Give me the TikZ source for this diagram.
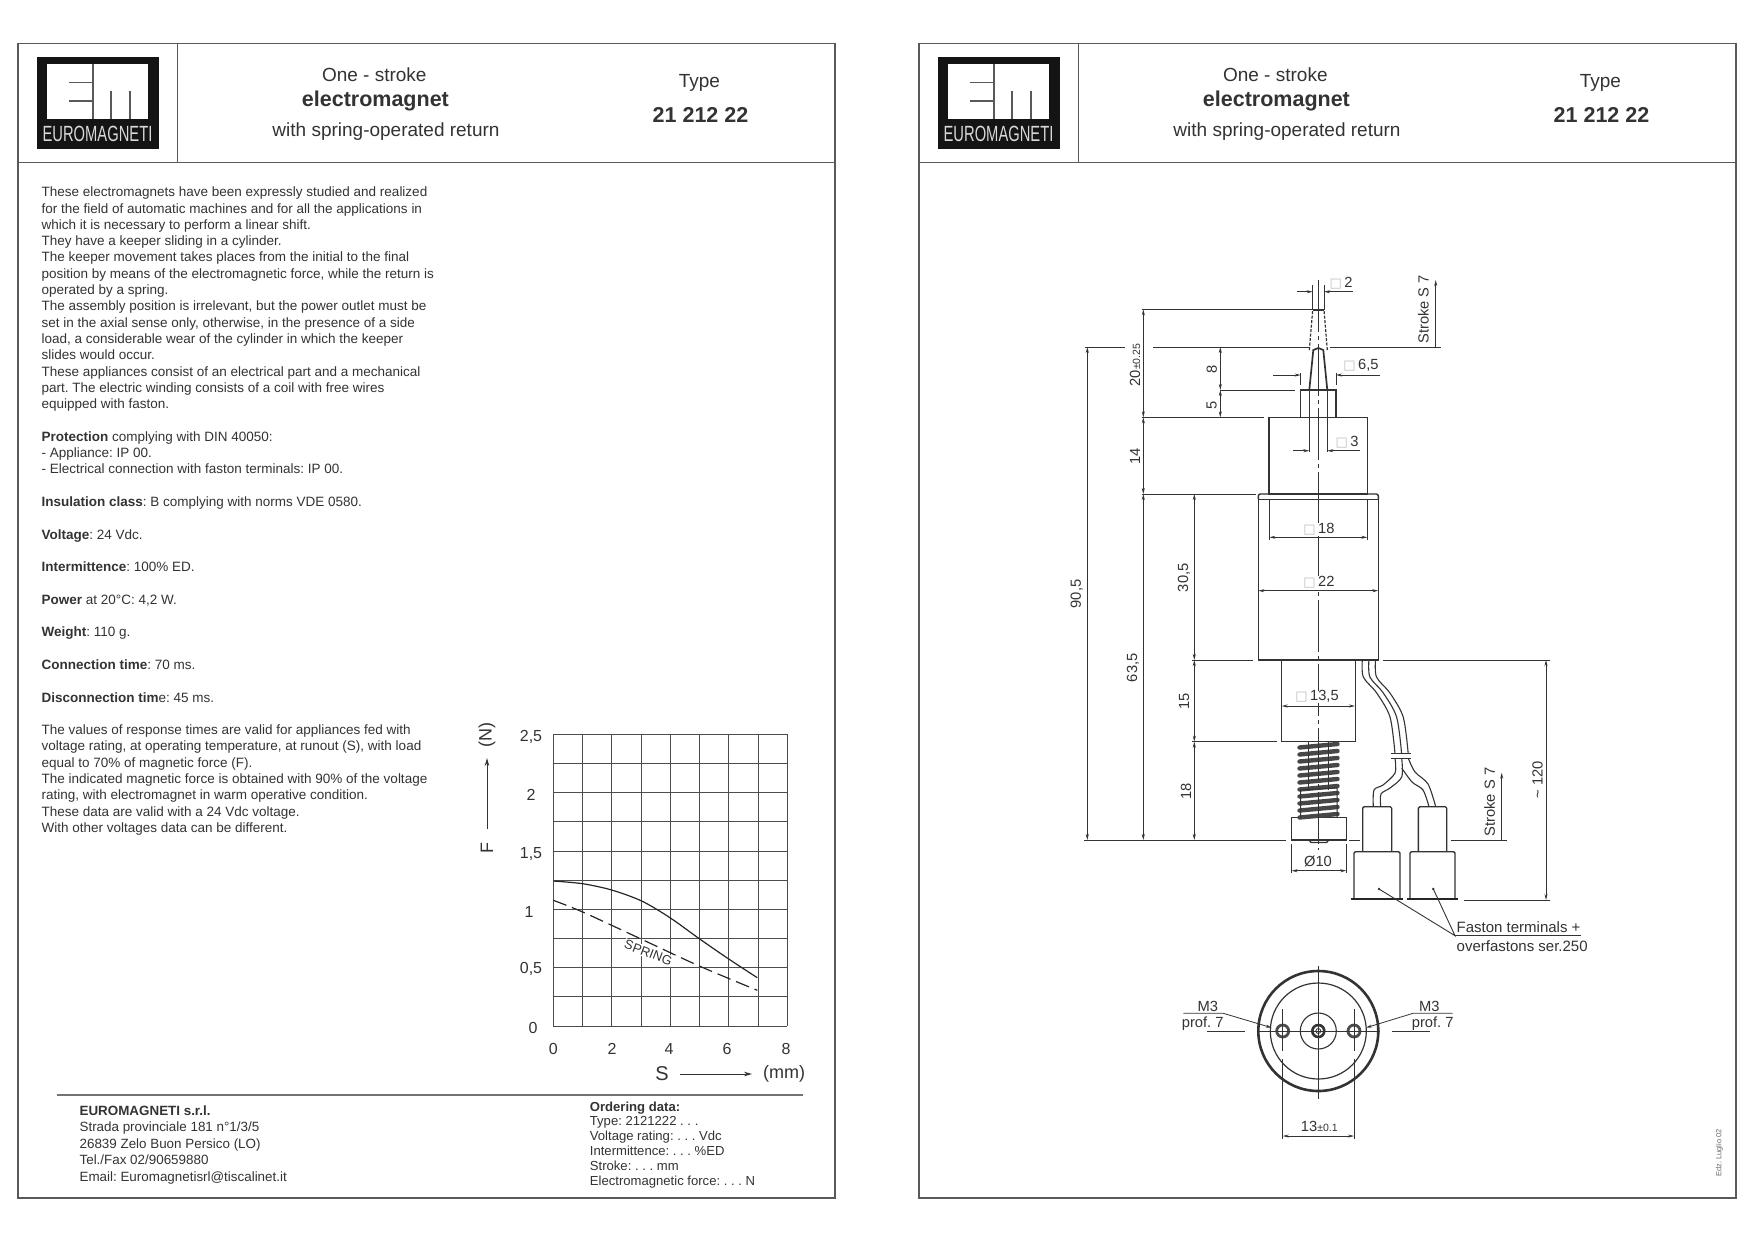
\documentclass[tikz,border=0pt]{standalone}
\usepackage{fontspec}
\setmainfont{Liberation Sans}
\newfontfamily\symfont{DejaVu Sans}
\usetikzlibrary{arrows.meta}
\frenchspacing
\definecolor{ink}{gray}{0.2}
\newcommand{\sq}{{\color{black!25}\symfont\fontsize{13}{13}\selectfont □}\,}
\newcommand{\tol}[1]{{\fontsize{10.5}{10.5}\selectfont #1}}
\tikzset{
  part/.style={draw=ink, line width=1.4pt},
  extline/.style={draw=ink, line width=0.9pt},
  dimline/.style={draw=ink, line width=0.8pt, {Stealth[length=6pt,width=3pt]}-{Stealth[length=6pt,width=3pt]}},
  inward/.style={draw=ink, line width=0.8pt, -{Stealth[length=6pt,width=3pt]}},
  plotarrow/.style={draw=ink, line width=1pt, -{Stealth[length=8pt,width=4.5pt]}},
  dimlab/.style={text=ink, inner sep=0pt, font=\fontsize{14.7}{16}\selectfont},
  plainlab/.style={text=ink, inner sep=0pt}
}
\begin{document}
\begin{tikzpicture}[x=1pt,y=-1pt]
  \useasboundingbox [fill=white] (0,0) rectangle (1755,1240);
  % The two sheets share the frame and the heading
  \foreach \off in {0,901} {
    \begin{scope}[xshift=\off pt]
      \draw [draw=black!65, line width=1.4pt] (18,43.6) rectangle (835,1198);
      \draw [draw=black!65, line width=1.4pt] (18,162.5) -- (835,162.5);
      \draw [draw=black!65, line width=1.1pt] (177.4,43.6) -- (177.4,162.5);
      % Logo
      \fill [black!92] (36.7,56.7) rectangle (159,149);
      \fill [white] (47,64) rectangle (148,119);
      \draw [black!65, line width=1.4pt] (93,64) -- (93,119);
      \draw [black!65, line width=1.4pt] (69,82.7) -- (93,82.7);
      \draw [black!65, line width=1.4pt] (69,101) -- (93,101);
      \draw [black!65, line width=1.4pt] (111,91) -- (111,119);
      \draw [black!65, line width=1.4pt] (130,91) -- (130,119);
      \node [text=white!85!black, inner sep=0pt, xscale=0.67, font=\fontsize{22}{22}\selectfont] (logo\off) at (97.5,134) {EUROMAGNETI};
      % Heading texts
      \node [plainlab, font=\fontsize{19}{20}\selectfont] (one\off) at (374.3,75) {One - stroke};
      \node [plainlab, font=\fontsize{21.5}{22}\bfseries] (magnet\off) at (375.4,100.5) {electromagnet};
      \node [plainlab, font=\fontsize{19}{20}\selectfont] (with\off) at (386,131.5) {with spring-operated return};
      \node [plainlab, font=\fontsize{19}{20}\selectfont] (type\off) at (699.4,82.5) {Type};
      \node [plainlab, font=\fontsize{21.5}{22}\bfseries] (code\off) at (700.5,115) {21 212 22};
    \end{scope}
  }
  % Description on the left sheet
  \node [plainlab, anchor=north west, align=left, font=\fontsize{13.5}{16.3}\selectfont] (descr) at (41.4,186.8) {These electromagnets have been expressly studied and realized\\
for the field of automatic machines and for all the applications in\\
which it is necessary to perform a linear shift.\\
They have a keeper sliding in a cylinder.\\
The keeper movement takes places from the initial to the final\\
position by means of the electromagnetic force, while the return is\\
operated by a spring.\\
The assembly position is irrelevant, but the power outlet must be\\
set in the axial sense only, otherwise, in the presence of a side\\
load, a considerable wear of the cylinder in which the keeper\\
slides would occur.\\
These appliances consist of an electrical part and a mechanical\\
part. The electric winding consists of a coil with free wires\\
equipped with faston.\\[16.3pt]
\textbf{Protection} complying with DIN 40050:\\
- Appliance: IP 00.\\
- Electrical connection with faston terminals: IP 00.\\[16.3pt]
\textbf{Insulation class}: B complying with norms VDE 0580.\\[16.3pt]
\textbf{Voltage}: 24 Vdc.\\[16.3pt]
\textbf{Intermittence}: 100\% ED.\\[16.3pt]
\textbf{Power} at 20°C: 4,2 W.\\[16.3pt]
\textbf{Weight}: 110 g.\\[16.3pt]
\textbf{Connection time}: 70 ms.\\[16.3pt]
\textbf{Disconnection tim}e: 45 ms.\\[16.3pt]
The values of response times are valid for appliances fed with\\
voltage rating, at operating temperature, at runout (S), with load\\
equal to 70\% of magnetic force (F).\\
The indicated magnetic force is obtained with 90\% of the voltage\\
rating, with electromagnet in warm operative condition.\\
These data are valid with a 24 Vdc voltage.\\
With other voltages data can be different.};
  % Footer of the left sheet
  \draw [draw=black!55, line width=1.1pt] (57,1095) -- (803.4,1095);
  \node [plainlab, anchor=north west, align=left, font=\fontsize{13.4}{16.4}\selectfont] (firm) at (79.4,1105.5) {\textbf{EUROMAGNETI s.r.l.}\\
Strada provinciale 181 n°1/3/5\\
26839 Zelo Buon Persico (LO)\\
Tel./Fax 02/90659880\\
Email: Euromagnetisrl@tiscalinet.it};
  \node [plainlab, anchor=north west, align=left, font=\fontsize{13.1}{14.8}\selectfont] (order) at (589.7,1101.4) {\textbf{Ordering data:}\\
Type: 2121222 . . .\\
Voltage rating: . . . Vdc\\
Intermittence: . . . \%ED\\
Stroke: . . . mm\\
Electromagnetic force: . . . N};
  % Force against stroke
  \foreach \i in {0,...,8} {
    \draw [draw=black!70, line width=0.9pt] (553.3+\i*29.25,734.3) -- (553.3+\i*29.25,1026);
  }
  \foreach \j in {0,...,10} {
    \draw [draw=black!70, line width=0.9pt] (553.3,734.3+\j*29.17) -- (787.3,734.3+\j*29.17);
  }
  \draw [draw=black!85, line width=1.2pt] plot [smooth] coordinates {(553.3,881) (582.7,883.7) (611.7,890) (641.7,901) (670,917.7) (699.3,938.7) (728.3,958.7) (757.3,977.7)};
  \draw [draw=black!85, line width=1.2pt, dash pattern=on 14pt off 6pt] plot [smooth] coordinates {(553.3,900.3) (582.7,912) (641.7,939.3) (699.3,966) (757.3,990.3)};
  \node [fill=white, text=ink, inner sep=1pt, rotate=-21, font=\fontsize{13}{13}\selectfont] (spring) at (648.3,952.7) {SPRING};
  \foreach \nam/\xx/\yy/\lab in {t/531/737/{2,5}, u/531/795/2, v/531/854/{1,5}, w/529/912/1, p/531/969/{0,5}, q/533/1028/0,
    a/553.3/1049/0, b/612/1049/2, c/669/1049/4, d/727/1049/6, e/786/1049/8} {
    \node [plainlab, font=\fontsize{16}{16}\selectfont] (tick\nam) at (\xx,\yy) {\lab};
  }
  \node [plainlab, rotate=90, font=\fontsize{18}{18}\selectfont] (forcelab) at (487,848) {F};
  \node [plainlab, rotate=90, font=\fontsize{18}{18}\selectfont] (newton) at (487,735) {(N)};
  \node [plainlab, font=\fontsize{20}{20}\selectfont] (strokelab) at (662,1074) {S};
  \node [plainlab, font=\fontsize{18}{18}\selectfont] (mm) at (784,1074) {(mm)};
  \coordinate (fa) at (487,829);
  \coordinate (fb) at (487,758);
  \coordinate (sa) at (680,1074);
  \coordinate (sb) at (752,1074);
  \draw [plotarrow] (fa) -- (fb);
  \draw [plotarrow] (sa) -- (sb);
  % Body of the magnet, seen from the side
  \draw [part] (1300.7,390) rectangle (1336,417.3);
  \draw [part] (1269,417.3) rectangle (1367.7,494);
  \draw [part, rounded corners=2pt] (1258.3,499.3) -- (1258.3,494) -- (1378.3,494) -- (1378.3,499.3);
  \draw [part] (1258.3,499.3) rectangle (1378.3,660);
  \draw [part] (1281.5,660) rectangle (1355.3,741.7);
  \draw [part] (1291.6,817.3) rectangle (1346.3,840);
  \draw [part] (1309,840) -- (1311,842.5) -- (1326.6,842.5) -- (1328.6,840);
  % Keeper tip and its stroked position
  \draw [part, line width=1.7pt] (1309.3,390) -- (1313.3,350) -- (1318.3,348) -- (1323.3,350) -- (1327.3,390);
  \draw [part, line width=1.2pt, dash pattern=on 3pt off 1.5pt] (1309.3,350) -- (1312.7,310);
  \draw [part, line width=1.2pt, dash pattern=on 3pt off 1.5pt] (1327.3,350) -- (1324,310);
  \draw [part] (1312.7,310) -- (1324,310);
  \draw [extline] (1309.3,390) -- (1309.3,452);
  \draw [extline] (1327.3,390) -- (1327.3,452);
  % Spring
  \foreach \k in {0,...,10} {
    \draw [draw=black!72, line width=4.4pt, line cap=round] (1299.5,746+\k*7+1.5) -- (1337.5,746+\k*7-2);
  }
  \draw [draw=ink, line width=1pt] (1308.3,742) -- (1308.3,790);
  \draw [draw=ink, line width=1pt] (1328.3,742) -- (1328.3,790);
  \draw [draw=ink, line width=1pt] (1300.5,817) -- (1300.5,790) -- (1337,788) -- (1337,817);
  % Centre line
  \draw [draw=ink, line width=0.8pt, dash pattern=on 52pt off 4pt on 4pt off 4pt] (1318.3,280) -- (1318.3,850);
  % Wires and terminals
  \foreach \dx in {0,6.6,13.2} {
    \begin{scope}[xshift=\dx pt]
      \draw [part, line width=1.1pt] plot [smooth] coordinates {(1362.3,660) (1363.3,677) (1376.7,693) (1390,717) (1395,753.7)};
    \end{scope}
  }
  \draw [part, line width=1.1pt] (1390.7,753.7) -- (1410.7,753.7);
  \draw [part, line width=1.1pt] (1390.7,758.3) -- (1410.7,758.3);
  \draw [part, line width=1.1pt] plot [smooth] coordinates {(1395,758.3) (1395,773) (1383,785) (1374,790) (1373.3,806.7)};
  \draw [part, line width=1.1pt] plot [smooth] coordinates {(1401.7,758.3) (1401.7,777) (1390,788) (1381,794) (1380.7,806.7)};
  \draw [part, line width=1.1pt] plot [smooth] coordinates {(1401.7,768) (1412,782) (1423,790) (1429,806.7)};
  \draw [part, line width=1.1pt] plot [smooth] coordinates {(1408.3,758.3) (1415,772) (1428,784) (1435.7,806.7)};
  \foreach \small/\smallr/\big/\bigr/\fa/\fb in {1362.7/1391.7/1354/1400/1350.7/1403.3, 1418.3/1446.7/1410/1455/1406.7/1458.3} {
    \draw [part, rounded corners=1.5pt] (\small,851.7) -- (\small,806.7) -- (\smallr,806.7) -- (\smallr,851.7);
    \draw [part, rounded corners=1.5pt] (\big,898.3) -- (\big,851.7) -- (\bigr,851.7) -- (\bigr,898.3);
    \draw [draw=black!85, line width=2.6pt] (\fa,899) -- (\fb,899);
  }
  % Extension lines of the side view
  \foreach \xa/\ya/\xb/\yb in {
    1141.7/309.3/1313/309.3,
    1085/347/1125/347,
    1153/347/1310/347,
    1330/347/1440.7/347,
    1220/390/1295/390,
    1141.7/417.3/1264/417.3,
    1141.7/494/1256/494,
    1191.7/660/1253/660,
    1383/660/1550/660,
    1191.7/741.7/1276.8/741.7,
    1084.4/840/1286/840,
    1349/840/1360/840,
    1450.7/840/1507/840,
    1463.6/900/1550/900,
    1312.7/285/1312.7/310,
    1324/285/1324/310,
    1300.7/373/1300.7/385,
    1336/373/1336/385,
    1269.3/499/1269.3/540,
    1367.3/499/1367.3/540,
    1291.6/844/1291.6/873,
    1346.3/844/1346.3/873} {
    \draw [extline] (\xa,\ya) -- (\xb,\yb);
  }
  % Dimension arrows of the side view
  \foreach \xa/\ya/\xb/\yb in {
    1143.3/309.3/1143.3/417.3,
    1143.3/417.3/1143.3/494,
    1143.3/494/1143.3/840,
    1087.3/347/1087.3/840,
    1220.3/347/1220.3/390,
    1220.3/390/1220.3/417.3,
    1194.3/494/1194.3/660,
    1194.3/660/1194.3/741.7,
    1194.3/741.7/1194.3/840,
    1546/660/1546/900,
    1269.3/537.3/1367.3/537.3,
    1258.3/590.7/1378.3/590.7,
    1281.7/706/1355/706,
    1291.6/870.7/1346.3/870.7} {
    \draw [dimline] (\xa,\ya) -- (\xb,\yb);
  }
  % Arrows that point in from outside, and the two strokes
  \foreach \xa/\ya/\xb/\yb in {
    1296.7/291.7/1312.7/291.7,
    1353/291.7/1324/291.7,
    1273/375/1300.7/375,
    1380/375/1336/375,
    1293/450.7/1309.3/450.7,
    1360/450.7/1327.3/450.7,
    1435.7/347/1435.7/280,
    1501.7/840/1501.7/772.7} {
    \draw [inward] (\xa,\ya) -- (\xb,\yb);
  }
  % Rotated measures
  \foreach \nam/\xx/\yy/\lab in {
    a/1135/365/{20\tol{±0.25}},
    b/1135/456.7/14,
    c/1211.7/369/8,
    d/1211.7/405/5,
    e/1076.7/594/{90,5},
    f/1133/667.7/{63,5},
    g/1184/577.7/{30,5},
    h/1184/701/15,
    i/1186/791/18,
    j/1423.3/309.3/{Stroke S 7},
    k/1489.5/802/{Stroke S 7},
    l/1537.6/780/{\textasciitilde\ 120}} {
    \node [dimlab, rotate=90] (rot\nam) at (\xx,\yy) {\lab};
  }
  % Level measures
  \foreach \nam/\xx/\yy/\lab in {
    a/1341/283/{\sq 2},
    b/1361/365/{\sq 6,5},
    c/1347/442/{\sq 3},
    d/1319/529/{\sq 18},
    e/1319/582.3/{\sq 22},
    f/1317/696.7/{\sq 13,5},
    g/1318/861.7/{Ø10}} {
    \node [dimlab, fill=white] (lev\nam) at (\xx,\yy) {\lab};
  }
  % Terminals are called out by one note
  \coordinate (leadl) at (1379,889);
  \coordinate (leadr) at (1433.3,889);
  \coordinate (leadm) at (1455,935.7);
  \coordinate (leade) at (1581,935.7);
  \fill [ink] (leadl) circle (1.4pt);
  \fill [ink] (leadr) circle (1.4pt);
  \draw [extline] (leadl) -- (leadm) -- (leadr);
  \draw [extline] (leadm) -- (leade);
  \node [dimlab, anchor=west, font=\fontsize{15}{16}\selectfont] (faston) at (1456.5,927.3) {Faston terminals +};
  \node [dimlab, anchor=west, font=\fontsize{15}{16}\selectfont] (over) at (1456.5,945.7) {overfastons ser.250};
  % View from below
  \draw [part, line width=2.6pt] (1318.3,1031) circle (60pt);
  \draw [part, line width=1.2pt] (1318.3,1031) circle (48pt);
  \draw [part, line width=1.1pt] (1318.3,1031) circle (18pt);
  \draw [part, line width=2.6pt] (1318.3,1031) circle (6pt);
  \draw [part, line width=0.8pt] (1318.3,1031) circle (2.5pt);
  \foreach \xx in {1282.7,1354} {
    \draw [part, line width=2.8pt, draw=black!70] (\xx,1031) circle (6pt);
    \draw [extline] (\xx,1009) -- (\xx,1051);
    \draw [extline] (\xx,1059) -- (\xx,1139);
  }
  \draw [extline] (1256.7,1031) -- (1380,1031);
  \draw [extline] (1318.3,966) -- (1318.3,1099);
  \draw [dimline] (1282.7,1136) -- (1354,1136);
  \node [dimlab] (pitch) at (1319.3,1126.7) {13\tol{±0.1}};
  % Threaded holes
  \foreach \nam/\xa/\xb/\xc/\xm/\xp/\ua/\ub in {
    l/1183.3/1223.3/1271.7/1207.7/1202.7/1206.7/1245,
    r/1452.7/1413/1366/1429.3/1432.7/1392.3/1430} {
    \draw [inward] (\xa,1013.3) -- (\xb,1013.3) -- (\xc,1027.7);
    \draw [extline] (\ua,1031) -- (\ub,1031);
    \node [dimlab] (metr\nam) at (\xm,1006) {M3};
    \node [dimlab] (prof\nam) at (\xp,1023.3) {prof. 7};
  }
  % Edition mark
  \node [text=black!60, inner sep=0pt, rotate=90, font=\fontsize{7.5}{8}\selectfont] (edition) at (1719.3,1153) {Edz. Luglio 02};
\end{tikzpicture}
\end{document}
